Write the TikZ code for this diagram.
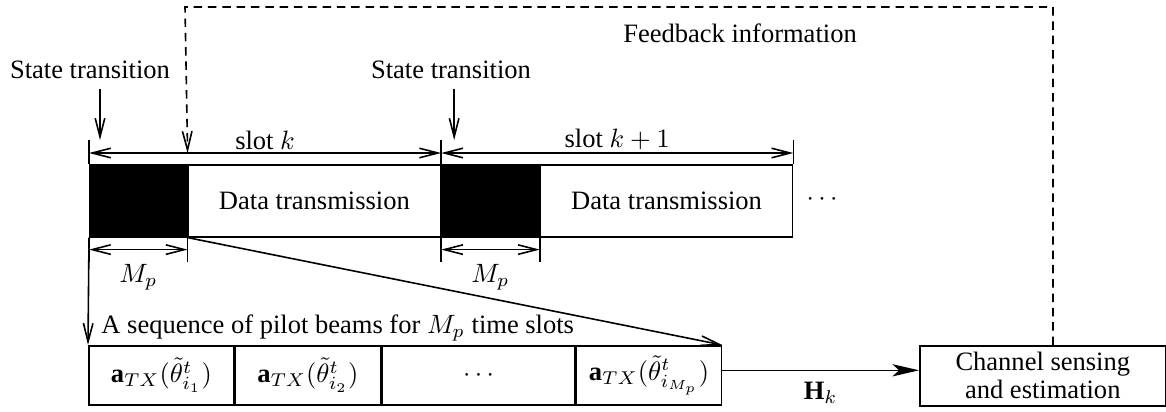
\documentclass[tikz,border=0pt]{standalone}
\usepackage{fontspec}
\setmainfont{Liberation Serif}
\usetikzlibrary{arrows.meta}
\newlength\ux
\setlength\ux{0.377pt}
\tikzset{
  bar/.style={-{Straight Barb[length=7pt,width=3.6pt]}},
  dimarr/.style={{Straight Barb[length=7pt,width=3.6pt]}-{Straight Barb[length=7pt,width=3.6pt]}},
  harr/.style={-{Stealth[length=10pt,width=4.6pt,inset=2.5pt]}},
  fbline/.style={dash pattern=on 3.2pt off 2.2pt, bar},
  pilot/.style={draw, fill=black, minimum width=97\ux, minimum height=72\ux, inner sep=0pt, anchor=north west},
  datablk/.style={draw, minimum width=252\ux, minimum height=72\ux, inner sep=0pt, anchor=north west},
  beam/.style={draw, minimum width=145\ux, minimum height=59\ux, inner sep=0pt, anchor=north west},
}
\begin{document}
\begin{tikzpicture}[x=\ux, y=-\ux, line width=0.6pt]
    \useasboundingbox (0,0) rectangle (1166,411);

    % Bloques de las ranuras
    \node[pilot] (p1) at (89,164) {};
    \node[datablk] (d1) at (p1.north east) {Data transmission};
    \node[pilot] (p2) at (d1.north east) {};
    \node[datablk] (d2) at (p2.north east) {Data transmission};
    \node (dots) at (822,200) {$\cdots$};

    % Marcas verticales sobre las ranuras
    \draw (p1.north west) -- ++(0,-24);
    \draw (p2.north west) -- ++(0,-24);
    \draw (d2.north east) -- ++(0,-24);

    % Duracion de cada ranura
    \draw[dimarr] ([yshift=11\ux]p1.north west) -- ([yshift=11\ux]p2.north west)
        node[midway, above, inner sep=1pt] {slot $k$};
    \draw[dimarr] ([yshift=11\ux]p2.north west) -- ([yshift=11\ux]d2.north east)
        node[midway, above, inner sep=1pt] {slot $k+1$};

    % Transiciones de estado
    \node (st1) at (90,70) {State transition};
    \node (st2) at (451,70) {State transition};
    \coordinate (st1e) at ([xshift=11\ux, yshift=24\ux]p1.north west);
    \coordinate (st2e) at ([xshift=13\ux, yshift=24\ux]p2.north west);
    \draw[bar] (st1.south -| st1e) -- (st1e);
    \draw[bar] (st2.south -| st2e) -- (st2e);

    % Duracion M_p de los pilotos
    \foreach \b in {p1, p2} {
        \draw (\b.south west) -- ++(0,24);
        \draw (\b.south east) -- ++(0,24);
        \draw[dimarr] ([yshift=-12\ux]\b.south west) -- ([yshift=-12\ux]\b.south east)
            node[midway, below, yshift=-2pt] {$M_p$};
    }

    % Secuencia de haces piloto
    \node[beam] (b1) at (88,345) {$\mathbf{a}_{TX}(\tilde{\theta}^t_{i_1})$};
    \node[beam] (b2) at (b1.north east) {$\mathbf{a}_{TX}(\tilde{\theta}^t_{i_2})$};
    \node[beam, minimum width=193\ux] (b3) at (b2.north east) {$\cdots$};
    \node[beam] (b4) at (b3.north east) {$\mathbf{a}_{TX}(\tilde{\theta}^t_{i_{M_p}})$};
    \node[anchor=south west, inner sep=1pt, xshift=10\ux] (seq) at (b1.north west)
        {A sequence of pilot beams for $M_p$ time slots};

    \draw[bar] (p1.south west) -- (b1.north west);
    \draw[bar] (p1.south east) -- (b4.north east);

    % Estimacion del canal
    \node[draw, anchor=north west, minimum width=246\ux, minimum height=60\ux,
        inner sep=0pt, align=center] (chan) at (919,345)
        {Channel sensing\\[-1.5pt]and estimation};
    \draw[harr] ([yshift=5\ux]b4.east) -- ([yshift=5\ux]b4.east -| chan.west)
        node[midway, below, yshift=-1pt] {$\mathbf{H}_k$};

    % Realimentacion
    \coordinate (fbr) at (1053,7);
    \coordinate (fbl) at (185,7);
    \node (fb) at (740,33) {Feedback information};
    \draw[fbline] (chan.north -| fbr) -- (fbr) -- (fbl) -- ([yshift=11\ux]p1.north east);
\end{tikzpicture}
\end{document}
